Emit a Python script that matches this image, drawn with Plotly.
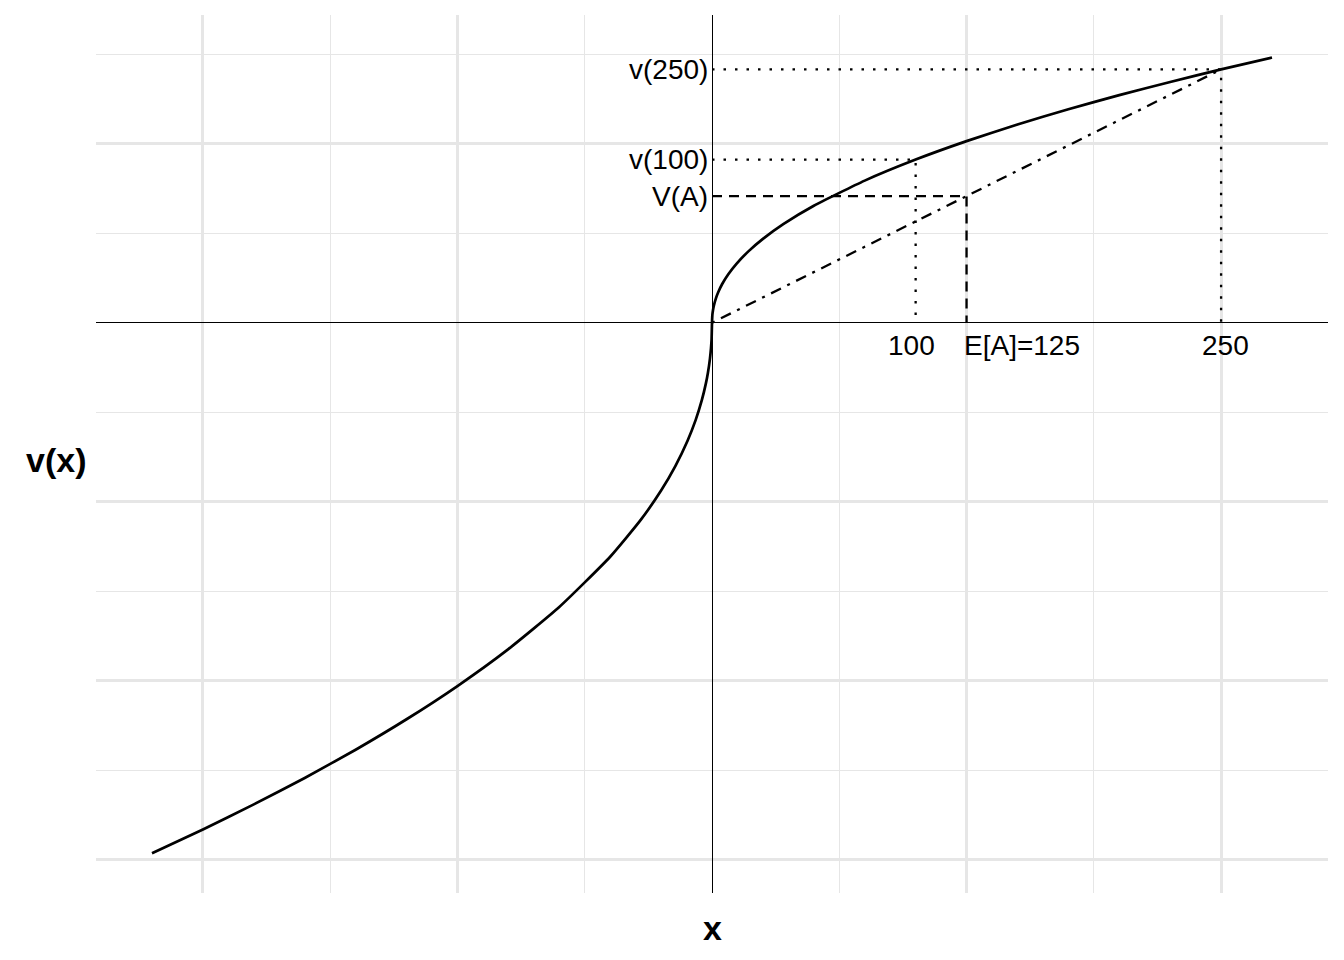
import plotly.graph_objects as go

# value function curve
curve_x = [-275, -250, -225, -200, -175, -150, -125, -100, -75, -50, -35, -25, -18, -12, -8, -5, -3, -2, -1, -0.5, -0.2,
           0, 0.2, 0.5, 1, 2, 3, 5, 8, 12, 18, 25, 35, 50, 75, 100, 125, 150, 175, 200, 225, 250, 275]
curve_v = [-29.644, -28.316, -26.918, -25.440, -23.862, -22.160, -20.302, -18.240, -15.886, -13.078, -11.020, -9.376,
           -8.008, -6.592, -5.426, -4.330, -3.388, -2.790, -2.000, -1.434, -0.924,
           0, 0.462, 0.717, 1.000, 1.395, 1.694, 2.165, 2.713, 3.296, 4.004, 4.688, 5.510, 6.539, 7.943, 9.120,
           10.151, 11.080, 11.931, 12.720, 13.459, 14.158, 14.822]

# reference points
x100, v100 = 100, 9.120
x250, v250 = 250, 14.158
ea, va = 125, 7.079

x_major = [-250, -125, 0, 125, 250]
x_minor = [-187.5, -62.5, 62.5, 187.5]
y_major = [-30, -20, -10, 0, 10]
y_minor = [-25, -15, -5, 5, 15]

FONT = "Liberation Sans, Arial, sans-serif"

fig = go.Figure()

def seg(xs, ys, dash, width=2.3):
    fig.add_trace(go.Scatter(x=xs, y=ys, mode="lines", showlegend=False, hoverinfo="skip",
                             line=dict(color="black", width=width, dash=dash)))

seg([0, x250, x250], [v250, v250, 0], "2.5px,9px")
seg([0, x100, x100], [v100, v100, 0], "2.5px,9px")
seg([0, ea, ea], [va, va, 0], "10px,7px")
seg([0, x250], [0, v250], "3px,7px,11px,7px")

fig.add_trace(go.Scatter(x=curve_x, y=curve_v, mode="lines", showlegend=False, hoverinfo="skip",
                         line=dict(color="black", width=2.7, shape="spline", smoothing=0.5)))

ann = []
for txt, yv in [("v(250)", v250), ("v(100)", v100), ("V(A)", va)]:
    ann.append(dict(x=0, y=yv, xref="x", yref="y", text=txt, showarrow=False, xanchor="right",
                    yanchor="middle", xshift=-2, font=dict(family=FONT, size=28, color="black")))
for txt, xv in [("100", 98), ("E[A]=125", 152), ("250", 252)]:
    ann.append(dict(x=xv, y=0, xref="x", yref="y", text=txt, showarrow=False, xanchor="center",
                    yanchor="top", yshift=-5, font=dict(family=FONT, size=28, color="black")))
ann.append(dict(x=0, y=0, xref="x", yref="paper", text="<b>x</b>", showarrow=False, xanchor="center",
                yanchor="top", yshift=-14, font=dict(family=FONT, size=34, color="black")))
ann.append(dict(x=0, y=0.5, xref="paper", yref="paper", text="<b>v(x)</b>", showarrow=False, xanchor="right",
                yanchor="middle", xshift=-8, yshift=-6, font=dict(family=FONT, size=34, color="black")))

fig.update_layout(
    width=1328, height=944,
    margin=dict(l=88, r=8, t=7, b=59),
    plot_bgcolor="white", paper_bgcolor="white",
    annotations=ann,
    xaxis=dict(range=[-302.5, 302.5], tickvals=x_major, showticklabels=False, ticks="",
               showgrid=True, gridcolor="#E6E6E6", gridwidth=2.6,
               minor=dict(tickvals=x_minor, showgrid=True, gridcolor="#E6E6E6", gridwidth=1.4, ticks=""),
               zeroline=True, zerolinecolor="black", zerolinewidth=1.3, showline=False),
    yaxis=dict(range=[-31.87, 17.2], tickvals=y_major, showticklabels=False, ticks="",
               showgrid=True, gridcolor="#E6E6E6", gridwidth=2.6,
               minor=dict(tickvals=y_minor, showgrid=True, gridcolor="#E6E6E6", gridwidth=1.4, ticks=""),
               zeroline=True, zerolinecolor="black", zerolinewidth=1.3, showline=False),
)

fig.write_html("out.html")
